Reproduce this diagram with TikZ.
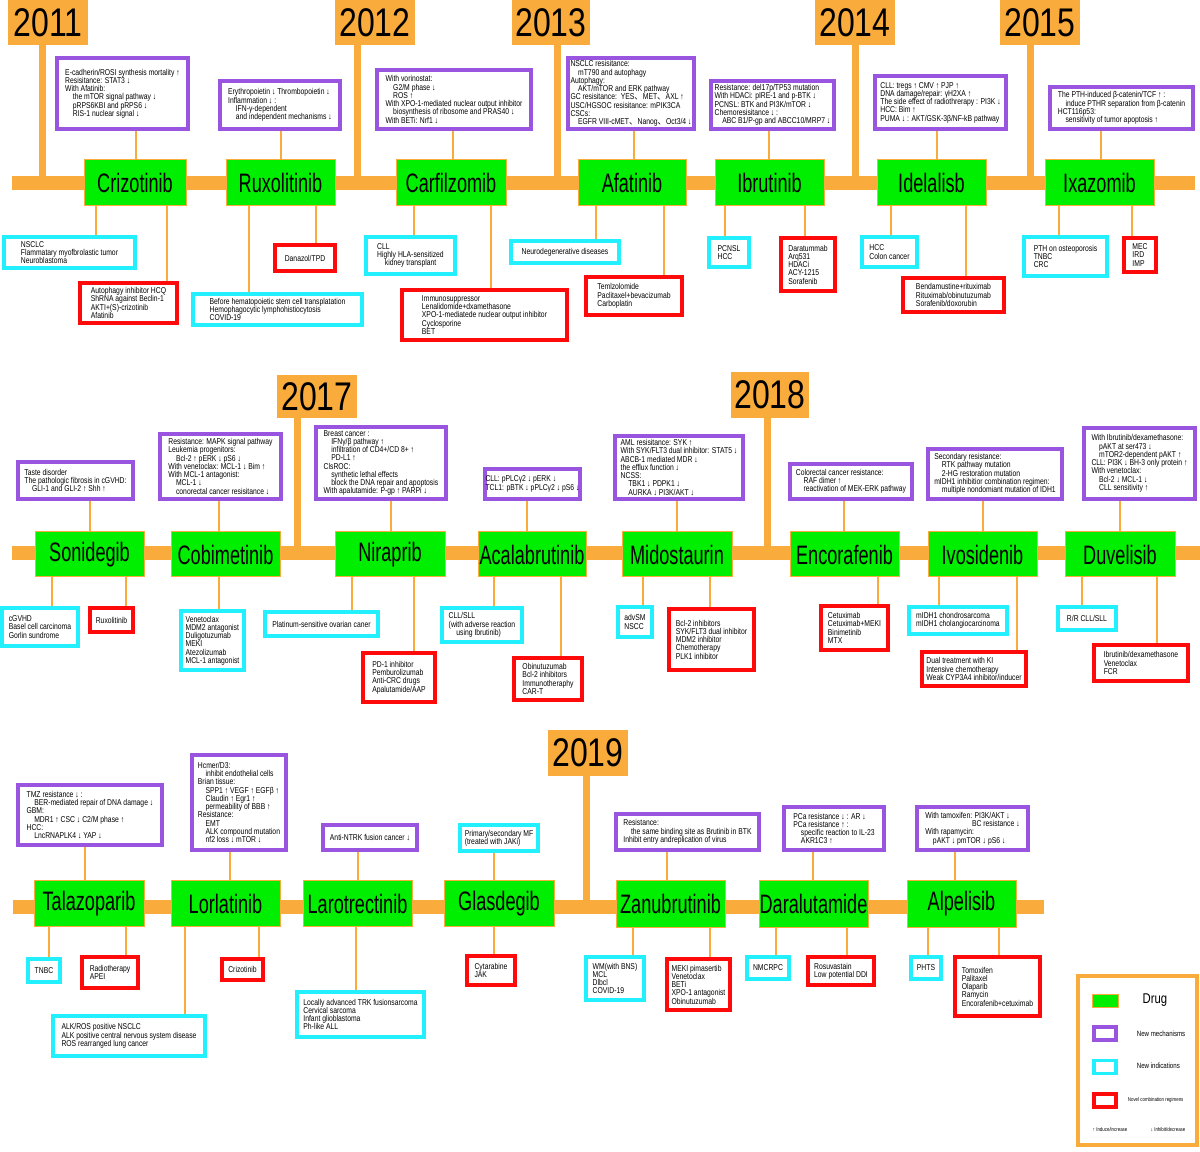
\documentclass[tikz,border=0pt]{standalone}
\usepackage{fontspec}
\setmainfont{Liberation Sans}
\newfontfamily\cond[FakeStretch=0.8]{Liberation Sans}
\newfontfamily\dcond[FakeStretch=0.68]{Liberation Sans}
\newfontfamily\cjk{Noto Sans CJK SC}
\definecolor{org}{HTML}{F9AC3B}
\definecolor{pur}{HTML}{9A55E0}
\definecolor{cyn}{HTML}{22F0FF}
\definecolor{rd}{HTML}{FF0A0A}
\definecolor{grn}{HTML}{00EE00}
\newcommand\q{\hspace*{0.9em}}
\tikzset{
 bxbase/.style={fill=white,line width=2.4pt,align=left,inner sep=0.5pt,font=\cond\fontsize{5.1}{4.95}\selectfont},
 pbox/.style={bxbase,draw=pur},
 cbox/.style={bxbase,draw=cyn},
 rbox/.style={bxbase,draw=rd},
 drugbox/.style={fill=grn,draw=org,line width=0.6pt,font=\dcond\fontsize{16}{16}\selectfont,inner sep=0pt},
 yearbox/.style={fill=org,draw=none,font=\cond\fontsize{24}{24}\selectfont,inner sep=0pt},
 conn/.style={draw=org,line width=0.9pt},
 tline/.style={draw=org,line width=8.4pt},
 yline/.style={draw=org,line width=4.2pt}
}
\newcommand\B[7]{\node[#2,minimum width={(#5-#3)*0.6pt},minimum height={(#6-#4)*0.6pt}] (#1) at ({(#3+#5)/2},{(#4+#6)/2}) {#7};}
\newcommand\D[6]{\node[drugbox,minimum width={(#4-#2)*0.6pt},minimum height={(#5-#3)*0.6pt}] (#1) at ({(#2+#4)/2},{(#3+#5)/2}) {#6};}
\newcommand\Y[6]{\node[yearbox,minimum width={(#4-#2)*0.6pt},minimum height={(#5-#3)*0.6pt}] (#1) at ({(#2+#4)/2},{(#3+#5)/2}) {#6};}
\newcommand\C[3]{\coordinate (k) at (#3,0); \draw[conn] (#1.south -| k) -- (#2.north -| k);}
\newcommand\V[3]{\coordinate (k) at (#2,#3); \draw[yline] (#1.south -| k) -- (k);}
\begin{document}
\begin{tikzpicture}[x=0.6pt,y=-0.6pt]
\useasboundingbox (0,0) rectangle (1200,1152);
% timelines
\coordinate (t1a) at (12,183); \coordinate (t1b) at (1195,183);
\coordinate (t2a) at (12,553); \coordinate (t2b) at (1200,553);
\coordinate (t3a) at (13,907); \coordinate (t3b) at (1044,907);
\draw[tline] (t1a) -- (t1b);
\draw[tline] (t2a) -- (t2b);
\draw[tline] (t3a) -- (t3b);
% years
\Y{y11}{8}{0}{88}{45}{2011}
\Y{y12}{335}{0}{415}{45}{2012}
\Y{y13}{512}{0}{590}{45}{2013}
\Y{y14}{815}{0}{895}{45}{2014}
\Y{y15}{1000}{0}{1080}{45}{2015}
\Y{y17}{277}{375}{357}{418}{2017}
\Y{y18}{731}{372}{809}{418}{2018}
\Y{y19}{548}{730}{628}{776}{2019}
\V{y11}{42}{183} \V{y12}{357}{183} \V{y13}{557}{183} \V{y14}{855}{183} \V{y15}{1030}{183}
\V{y17}{297}{553} \V{y18}{767}{553} \V{y19}{586}{907}

% ===== Row 1 =====
\D{criz}{84}{160}{186}{206}{Crizotinib}
\D{rux}{226}{160}{335}{206}{Ruxolitinib}
\D{carf}{396}{160}{506}{206}{Carfilzomib}
\D{afat}{578}{160}{686}{206}{Afatinib}
\D{ibru}{715}{160}{824}{206}{Ibrutinib}
\D{idel}{877}{160}{986}{206}{Idelalisb}
\D{ixa}{1045}{160}{1154}{206}{Ixazomib}

\B{pcriz}{pbox}{57}{58}{188}{129}{E-cadherin/ROSI synthesis mortality ↑\\Resisitance: STAT3 ↓\\With Afatinib:\\\q the mTOR signal pathway ↓\\\q pRPS6KBI and pRPS6 ↓\\\q RIS-1 nuclear signal ↓}
\B{prux}{pbox}{220}{81}{340}{129}{Erythropoietin ↓ Thrombopoietin ↓\\Inflammation ↓ :\\\q IFN-γ-dependent\\\q and independent mechanisms ↓}
\B{pcarf}{pbox}{377}{70}{531}{129}{With vorinostat:\\\q G2/M phase ↓\\\q ROS ↑\\With XPO-1-mediated nuclear output inhibitor\\\q biosynthesis of ribosome and PRAS40 ↓\\With BETi: Nrf1 ↓}
\B{pafat}{pbox}{568}{58}{694}{129}{NSCLC resisitance:\\\q mT790 and autophagy\\Autophagy:\\\q AKT/mTOR and ERK pathway\\GC resisitance:\ \ YES{\cjk 、}MET{\cjk 、}AXL ↑\\USC/HGSOC resisitance: mPIK3CA\\CSCs:\\\q EGFR VIII-cMET{\cjk 、}Nanog{\cjk 、}Oct3/4 ↓}
\B{pibru}{pbox}{711}{81}{834}{129}{Resistance: del17p/TP53 mutation\\With HDACi: pIRE-1 and p-BTK ↓\\PCNSL: BTK and PI3K/mTOR ↓\\Chemoresisitance ↓ :\\\q ABC B1/P-gp and ABCC10/MRP7 ↓}
\B{pidel}{pbox}{875}{76}{1006}{129}{CLL: tregs ↑ CMV ↑ PJP ↑\\DNA damage/repair: γH2XA ↑\\The side effect of radiothrerapy : PI3K ↓\\HCC: Bim ↑\\PUMA ↓ : AKT/GSK-3β/NF-kB pathway}
\B{pixa}{pbox}{1050}{87}{1193}{129}{The PTH-induced β-catenin/TCF ↑ :\\\q induce PTHR separation from β-catenin\\HCT116p53:\\\q sensitivity of tumor apoptosis ↑}
\C{pcriz}{criz}{136} \C{prux}{rux}{281} \C{pcarf}{carf}{453} \C{pafat}{afat}{634}
\C{pibru}{ibru}{769} \C{pidel}{idel}{937} \C{pixa}{ixa}{1101}

\B{ccriz}{cbox}{4}{237}{135}{268}{NSCLC\\Flammatary myofbrolastic tumor\\Neuroblastoma}
\B{rcriz}{rbox}{80}{283}{177}{323}{Autophagy inhibitor HCQ\\ShRNA against Beclin-1\\AKTI+(S)-crizotinib\\Afatinib}
\B{crux}{cbox}{193}{294}{362}{325}{Before hematopoietic stem cell transplatation\\Hemophagocytic lymphohistiocytosis\\COVID-19}
\B{rrux}{rbox}{275}{245}{335}{271}{Danazol/TPD}
\B{ccarf}{cbox}{366}{237}{455}{274}{CLL\\Highly HLA-sensitized\\\q kidney transplant}
\B{rcarf}{rbox}{402}{290}{567}{340}{Immunosuppressor\\Lenalidomide+dxamethasone\\XPO-1-mediatede nuclear output inhibitor\\Cyclosporine\\BET}
\B{cafat}{cbox}{511}{241}{619}{263}{Neurodegenerative diseases}
\B{rafat}{rbox}{586}{277}{682}{315}{Temlzolomide\\Paclitaxel+bevacizumab\\Carboplatin}
\B{cibru}{cbox}{709}{238}{749}{267}{PCNSL\\HCC}
\B{ribru}{rbox}{781}{238}{835}{291}{Daratummab\\Arq531\\HDACi\\ACY-1215\\Sorafenib}
\B{cidel}{cbox}{862}{237}{917}{267}{HCC\\Colon cancer}
\B{ridel}{rbox}{903}{278}{1004}{312}{Bendamustine+rituximab\\Rituximab/obinutuzumab\\Sorafenib/doxorubin}
\B{cixa}{cbox}{1024}{237}{1107}{276}{PTH on osteoporosis\\TNBC\\CRC}
\B{rixa}{rbox}{1124}{238}{1156}{272}{MEC\\IRD\\IMP}
\C{criz}{ccriz}{96} \C{criz}{rcriz}{167} \C{rux}{crux}{249} \C{rux}{rrux}{316}
\C{carf}{ccarf}{414} \C{carf}{rcarf}{491} \C{afat}{cafat}{596} \C{afat}{rafat}{664}
\C{ibru}{cibru}{725} \C{ibru}{ribru}{805} \C{idel}{cidel}{891} \C{idel}{ridel}{966}
\C{ixa}{cixa}{1059} \C{ixa}{rixa}{1132}

% ===== Row 2 =====
\D{soni}{35}{532}{144}{577}{Sonidegib}
\D{cobi}{171}{532}{280}{577}{Cobimetinib}
\D{nira}{335}{532}{445}{577}{Niraprib}
\D{acal}{478}{532}{586}{577}{Acalabrutinib}
\D{mido}{622}{532}{732}{577}{Midostaurin}
\D{enco}{790}{532}{899}{577}{Encorafenib}
\D{ivo}{928}{532}{1037}{577}{Ivosidenib}
\D{duv}{1065}{532}{1175}{577}{Duvelisib}

\B{psoni}{pbox}{18}{462}{133}{499}{Taste disorder\\The pathologic fibrosis in cGVHD:\\\q GLI-1 and GLI-2 ↑ Shh ↑}
\B{pcobi}{pbox}{160}{434}{281}{499}{Resistance: MAPK signal pathway\\Leukemia progenitors:\\\q Bcl-2 ↑ pERK ↓ pS6 ↓\\With venetoclax: MCL-1 ↓ Bim ↑\\With MCL-1 antagonist:\\\q MCL-1 ↓\\\q conorectal cancer resisitance ↓}
\B{pnira}{pbox}{316}{427}{446}{499}{Breast cancer :\\\q IFNγ/β pathway ↑\\\q infiltration of CD4+/CD 8+ ↑\\\q PD-L1 ↑\\ClsROC:\\\q synthetic lethal effects\\\q block the DNA repair and apoptosis\\With apalutamide: P-gp ↑ PARPi ↓}
\B{pacal}{pbox}{485}{469}{580}{499}{CLL: pPLCγ2 ↓ pERK ↓\\TCL1: pBTK ↓ pPLCγ2 ↓ pS6 ↓}
\B{pmido}{pbox}{615}{436}{743}{499}{AML resisitance: SYK ↑\\With SYK/FLT3 dual inhibitor: STAT5 ↓\\ABCB-1 mediated MDR ↓\\the efflux function ↓\\NCSS:\\\q TBK1 ↓ PDPK1 ↓\\\q AURKA ↓ PI3K/AKT ↓}
\B{penco}{pbox}{790}{464}{912}{499}{Colorectal cancer resistance:\\\q RAF dimer ↑\\\q reactivation of MEK-ERK pathway}
\B{pivo}{pbox}{928}{449}{1062}{499}{Secondary resistance:\\\q RTK pathway mutation\\\q 2-HG restoration mutation\\mIDH1 inhibitior combination regimen:\\\q multiple nondomiant mutation of IDH1}
\B{pduv}{pbox}{1084}{428}{1195}{499}{With Ibrutinib/dexamethasone:\\\q pAKT at ser473 ↓\\\q mTOR2-dependent pAKT ↑\\CLL: PI3K ↓ BH-3 only protein ↑\\With venetoclax:\\\q Bcl-2 ↓ MCL-1 ↓\\\q CLL sensitivity ↑}
\C{psoni}{soni}{90} \C{pcobi}{cobi}{219} \C{pnira}{nira}{391} \C{pacal}{acal}{527}
\C{pmido}{mido}{677} \C{penco}{enco}{844} \C{pivo}{ivo}{983} \C{pduv}{duv}{1120}

\B{csoni}{cbox}{2}{608}{78}{646}{cGVHD\\Basel cell carcinoma\\Gorlin sundrome}
\B{rsoni}{rbox}{90}{608}{133}{632}{Ruxolitinib}
\B{ccobi}{cbox}{181}{611}{244}{670}{Venetoclax\\MDM2 antagonist\\Duligotuzumab\\MEKI\\Atezolizumab\\MCL-1 antagonist}
\B{cnira}{cbox}{265}{612}{378}{636}{Platinum-sensitive ovarian caner}
\B{rnira}{rbox}{363}{653}{435}{702}{PD-1 inhibitor\\Pemburolizumab\\Anti-CRC drugs\\Apalutamide/AAP}
\B{cacal}{cbox}{442}{608}{522}{642}{CLL/SLL\\(with adverse reaction\\\q using Ibrutinib)}
\B{racal}{rbox}{514}{658}{582}{700}{Obinutuzumab\\Bcl-2 inhibitors\\Immunotheraphy\\CAR-T}
\B{cmido}{cbox}{618}{607}{652}{637}{advSM\\NSCC}
\B{rmido}{rbox}{669}{609}{754}{670}{Bcl-2 inhibitors\\SYK/FLT3 dual inhibitor\\MDM2 inhibitor\\Chemotherapy\\PLK1 inhibitor}
\B{renco}{rbox}{821}{606}{888}{650}{Cetuximab\\Cetuximab+MEKI\\Binimetinib\\MTX}
\B{civo}{cbox}{909}{607}{1007}{634}{mIDH1 chondrosarcoma\\mIDH1 cholangiocarcinoma}
\B{rivo}{rbox}{922}{652}{1026}{686}{Dual treatment with KI\\Intensive chemotherapy\\Weak CYP3A4 inhibitor/inducer}
\B{cduv}{cbox}{1058}{607}{1116}{630}{R/R CLL/SLL}
\B{rduv}{rbox}{1094}{645}{1188}{681}{Ibrutinib/dexamethasone\\Venetoclax\\FCR}
\C{soni}{csoni}{52} \C{soni}{rsoni}{126} \C{cobi}{ccobi}{219} \C{nira}{cnira}{352} \C{nira}{rnira}{414}
\C{acal}{cacal}{494} \C{acal}{racal}{561} \C{mido}{cmido}{643} \C{mido}{rmido}{710}
\C{enco}{renco}{878} \C{ivo}{civo}{939} \C{ivo}{rivo}{1017} \C{duv}{cduv}{1082} \C{duv}{rduv}{1157}

% ===== Row 3 =====
\D{tala}{34}{881}{144}{926}{Talazoparib}
\D{lorl}{171}{881}{280}{926}{Lorlatinib}
\D{laro}{303}{881}{412}{926}{Larotrectinib}
\D{glas}{444}{881}{554}{926}{Glasdegib}
\D{zanu}{616}{881}{725}{927}{Zanubrutinib}
\D{dara}{759}{881}{868}{927}{Daralutamide}
\D{alpe}{907}{881}{1016}{927}{Alpelisib}

\B{ptala}{pbox}{18}{785}{162}{845}{TMZ resistance ↓ :\\\q BER-mediated repair of DNA damage ↓\\GBM:\\\q MDR1 ↑ CSC ↓ C2/M phase ↑\\HCC:\\\q LncRNAPLK4 ↓ YAP ↓}
\B{plorl}{pbox}{192}{755}{286}{850}{Hcmer/D3:\\\q inhibit endothelial cells\\Brian tissue:\\\q SPP1 ↑ VEGF ↑ EGFβ ↑\\\q Claudin ↑ Egr1 ↑\\\q permeability of BBB ↑\\Resistance:\\\q EMT\\\q ALK compound mutation\\\q nf2 loss ↓ mTOR ↓}
\B{plaro}{pbox}{323}{825}{417}{850}{Anti-NTRK fusion cancer ↓}
\B{cglas}{cbox}{460}{825}{538}{851}{Primary/secondary MF\\(treated with JAKi)}
\B{pzanu}{pbox}{616}{814}{759}{850}{Resistance:\\\q the same binding site as Brutinib in BTK\\Inhibit entry andreplication of virus}
\B{pdara}{pbox}{784}{807}{884}{850}{PCa resistance ↓ : AR ↓\\PCa resistance ↑ :\\\q specific reaction to IL-23\\\q AKR1C3 ↑}
\B{palpe}{pbox}{917}{807}{1028}{850}{With tamoxifen: PI3K/AKT ↓\\\hspace*{5.5em}BC resistance ↓\\With rapamycin:\\\q pAKT ↓ pmTOR ↓ pS6 ↓}
\C{ptala}{tala}{85} \C{plorl}{lorl}{230} \C{plaro}{laro}{358} \C{cglas}{glas}{494}
\C{pzanu}{zanu}{667} \C{pdara}{dara}{813} \C{palpe}{alpe}{955}

\B{ctala}{cbox}{28}{959}{60}{982}{TNBC}
\B{rtala}{rbox}{82}{957}{138}{988}{Radiotherapy\\APEI}
\B{rlorl}{rbox}{222}{959}{263}{980}{Crizotinib}
\B{clorl}{cbox}{53}{1016}{205}{1056}{ALK/ROS positive NSCLC\\ALK positive central nervous system disease\\ROS rearranged lung cancer}
\B{claro}{cbox}{297}{992}{424}{1037}{Locally advanced TRK fusionsarcoma\\Cervical sarcoma\\Infant glioblastoma\\Ph-like ALL}
\B{rglas}{rbox}{467}{956}{515}{985}{Cytarabine\\JAK}
\B{czanu}{cbox}{586}{957}{644}{1000}{WM(with BNS)\\MCL\\Dlbcl\\COVID-19}
\B{rzanu}{rbox}{667}{959}{730}{1010}{MEKI pimasertib\\Venetoclax\\BETi\\XPO-1 antagonist\\Obinutuzumab}
\B{cdara}{cbox}{747}{957}{789}{979}{NMCRPC}
\B{rdara}{rbox}{808}{957}{874}{985}{Rosuvastain\\Low potential DDI}
\B{calpe}{cbox}{911}{957}{941}{979}{PHTS}
\B{ralpe}{rbox}{955}{957}{1040}{1016}{Tomoxifen\\Palitaxel\\Olaparib\\Ramycin\\Encorafenib+cetuximab}
\C{tala}{ctala}{49} \C{tala}{rtala}{126} \C{lorl}{rlorl}{259} \C{lorl}{clorl}{185}
\C{laro}{claro}{356} \C{glas}{rglas}{494} \C{zanu}{czanu}{633} \C{zanu}{rzanu}{710}
\C{dara}{cdara}{776} \C{dara}{rdara}{847} \C{alpe}{calpe}{928} \C{alpe}{ralpe}{999}

% ===== Legend =====
\node[draw=org,line width=2.4pt,minimum width={119*0.6pt},minimum height={169*0.6pt},inner sep=0pt] (leg) at (1137.5,1060.5) {};
\node[fill=grn,draw=org,line width=0.6pt,minimum width={26*0.6pt},minimum height={13*0.6pt},inner sep=0pt] (lg1) at (1105,1000.5) {};
\node[font=\cond\fontsize{8.5}{9}\selectfont] (lt1) at (1155,1000) {Drug};
\node[fill=white,draw=pur,line width=2.2pt,minimum width={22*0.6pt},minimum height={13*0.6pt},inner sep=0pt] (lg2) at (1105,1033.5) {};
\node[font=\cond\fontsize{4.6}{5}\selectfont,anchor=west] (lt2) at (1131,1034) {New mechanisms};
\node[fill=white,draw=cyn,line width=2.2pt,minimum width={22*0.6pt},minimum height={13*0.6pt},inner sep=0pt] (lg3) at (1105,1067) {};
\node[font=\cond\fontsize{4.6}{5}\selectfont,anchor=west] (lt3) at (1131,1066) {New indications};
\node[fill=white,draw=rd,line width=2.2pt,minimum width={22*0.6pt},minimum height={13*0.6pt},inner sep=0pt] (lg4) at (1105,1100.5) {};
\node[font=\cond\fontsize{3.3}{4}\selectfont,anchor=west] (lt4) at (1122,1100) {Novel combination regimens};
\node[font=\cond\fontsize{3.3}{4}\selectfont,anchor=west] (lt5) at (1087,1130) {↑ Induce/increase};
\node[font=\cond\fontsize{3.3}{4}\selectfont,anchor=west] (lt6) at (1145,1130) {↓ Inhibit/decrease};
\end{tikzpicture}
\end{document}
